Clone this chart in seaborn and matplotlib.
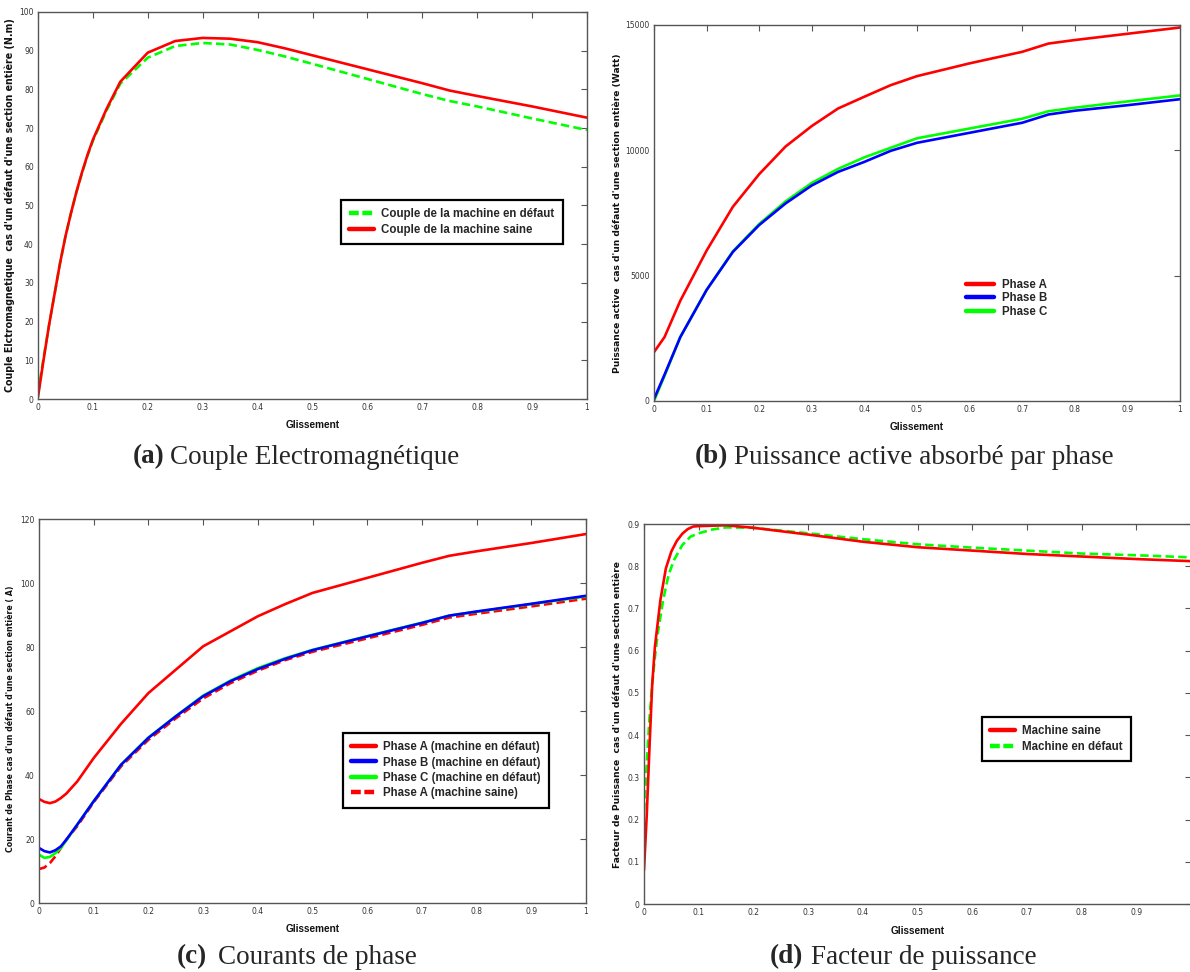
import numpy as np
import pandas as pd
import seaborn as sns
import matplotlib
matplotlib.use("Agg")
import matplotlib.pyplot as plt
from matplotlib import font_manager

# ---------------------------------------------------------------- data
# (a) electromagnetic torque vs slip
slip_a = [0, 0.01, 0.02, 0.03, 0.04, 0.05, 0.06, 0.07, 0.08, 0.09, 0.1, 0.125,
          0.15, 0.2, 0.25, 0.3, 0.35, 0.4, 0.45, 0.5, 0.6, 0.7, 0.75, 0.8, 0.9, 1.0]
couple_saine = [0.5, 10, 19, 27, 35, 42, 48, 53.5, 58.5, 63, 67, 75,
                82, 89.5, 92.5, 93.3, 93.1, 92.2, 90.6, 88.8, 85.2, 81.6, 79.7, 78.3, 75.6, 72.7]
couple_defaut = [1.5, 10.5, 19, 27, 35, 42, 48, 53.5, 58.3, 62.8, 66.7, 74.6,
                 81.5, 88.2, 91.2, 92.0, 91.6, 90.2, 88.5, 86.6, 82.7, 78.8, 77.0, 75.6, 72.5, 69.5]

# (b) active power absorbed per phase
slip_b = [0, 0.02, 0.05, 0.1, 0.15, 0.2, 0.25, 0.3, 0.35, 0.4, 0.45, 0.5,
          0.6, 0.7, 0.75, 0.8, 0.9, 1.0]
puissance_a = [1950, 2550, 4000, 6000, 7750, 9050, 10150, 10970, 11670, 12140, 12600, 12960,
               13470, 13930, 14260, 14400, 14650, 14900]
puissance_b = [80, 1050, 2550, 4430, 5950, 7020, 7880, 8600, 9140, 9540, 9980, 10300,
               10700, 11100, 11430, 11580, 11800, 12040]
puissance_c = [0, 1000, 2550, 4430, 5970, 7060, 7960, 8700, 9260, 9720, 10100, 10480,
               10870, 11260, 11560, 11700, 11950, 12190]

# (c) phase currents
slip_c = [0, 0.01, 0.02, 0.03, 0.04, 0.05, 0.07, 0.1, 0.15, 0.2, 0.25, 0.3, 0.35,
          0.4, 0.45, 0.5, 0.6, 0.7, 0.75, 0.8, 0.9, 1.0]
courant_a_defaut = [32.5, 31.6, 31.2, 31.7, 32.8, 34.2, 38.0, 45.3, 56.0, 65.6, 72.9, 80.2, 84.9,
                    89.6, 93.4, 96.9, 101.6, 106.3, 108.5, 109.9, 112.5, 115.3]
courant_b_defaut = [17.2, 16.2, 15.8, 16.5, 17.7, 19.8, 24.5, 31.8, 43.2, 51.6, 58.3, 64.6, 69.3,
                    73.1, 76.3, 79.0, 83.3, 87.5, 89.8, 91.1, 93.5, 96.0]
courant_c_defaut = [15.1, 14.1, 14.4, 15.6, 17.2, 19.6, 24.5, 31.8, 43.2, 51.7, 58.4, 64.8, 69.5,
                    73.4, 76.5, 79.1, 83.4, 87.6, 89.8, 91.0, 93.4, 95.8]
courant_a_saine = [10.6, 11.1, 12.5, 14.6, 17.2, 19.8, 24.0, 31.5, 42.7, 51.0, 57.7, 63.9, 68.7,
                   72.6, 75.9, 78.5, 82.7, 86.9, 89.2, 90.4, 92.7, 95.1]

# (d) power factor
slip_d_saine = [0, 0.005, 0.01, 0.015, 0.02, 0.03, 0.04, 0.05, 0.06, 0.07, 0.08, 0.09, 0.1,
                0.15, 0.2, 0.3, 0.4, 0.5, 0.6, 0.7, 0.8, 0.9, 1.0]
fp_saine = [0.08, 0.21, 0.37, 0.52, 0.61, 0.72, 0.795, 0.835, 0.86, 0.877, 0.888, 0.894, 0.895,
            0.897, 0.891, 0.875, 0.858, 0.845, 0.837, 0.829, 0.823, 0.817, 0.812]
slip_d_defaut = [0, 0.005, 0.01, 0.015, 0.02, 0.025, 0.035, 0.045, 0.055, 0.07, 0.085, 0.1, 0.125,
                 0.15, 0.2, 0.3, 0.4, 0.5, 0.6, 0.7, 0.8, 0.9, 1.0]
fp_defaut = [0.22, 0.33, 0.44, 0.52, 0.585, 0.64, 0.72, 0.78, 0.815, 0.85, 0.87, 0.878, 0.887,
             0.892, 0.891, 0.878, 0.864, 0.852, 0.844, 0.837, 0.830, 0.826, 0.821]

slip_ticks = [0, 0.1, 0.2, 0.3, 0.4, 0.5, 0.6, 0.7, 0.8, 0.9, 1.0]
slip_tick_labels = ["0", "0.1", "0.2", "0.3", "0.4", "0.5", "0.6", "0.7", "0.8", "0.9", "1"]

# ---------------------------------------------------------------- style
sns.set_style("white")
installed = {f.name for f in font_manager.fontManager.ttflist}
narrow = "Liberation Sans Narrow" if "Liberation Sans Narrow" in installed else "Liberation Sans"
plt.rcParams["font.family"] = ["DejaVu Sans"]

RED, GREEN, BLUE = "#ff0000", "#00ff00", "#0000ff"
LW = 1.9
DASH = (3.2, 1.6)
LEG_DASH = (0, (2.2, 0.8))

W, H = 1190, 972
fig = plt.figure(figsize=(W / 100, H / 100), dpi=100)


def px_axes(left, right, top, bottom):
    return fig.add_axes([left / W, 1 - bottom / H, (right - left) / W, (bottom - top) / H])


def style_axes(ax, ylim, yticks, ylabel, ylab_x, xlab_y, ylab_size=6.6, ylab_y=0.5,
               xticklabels=None):
    ax.set_xlim(0, 1)
    ax.set_ylim(*ylim)
    ax.set_xticks(slip_ticks)
    ax.set_xticklabels(xticklabels or slip_tick_labels)
    ax.set_yticks(yticks)
    ax.set_yticklabels([("%g" % v) for v in yticks])
    ax.tick_params(direction="in", top=True, right=True, length=4, width=0.8,
                   labelsize=5.5, labelcolor="#333333", color="#555555", pad=3)
    for sp in ax.spines.values():
        sp.set_color("#555555")
        sp.set_linewidth(1.0)
    ax.set_ylabel(ylabel, fontsize=ylab_size, fontweight="bold", color="#111111",
                  family="DejaVu Sans")
    ax.set_xlabel("Glissement", fontsize=7.2, fontweight="bold", color="#111111", family=narrow)
    ax.yaxis.set_label_coords(ylab_x, ylab_y)
    ax.xaxis.set_label_coords(0.5, xlab_y)
    ax.grid(False)


def add_legend(ax, order, x0, y0, frame=True, spacing=0.35, textpad=0.6, hlen=2.2):
    handles, labels = ax.get_legend_handles_labels()
    lookup = dict(zip(labels, handles))
    leg = ax.legend([lookup[k] for k in order], order, loc="upper left",
                    bbox_to_anchor=(x0 / W, 1 - y0 / H), bbox_transform=fig.transFigure,
                    frameon=frame, fancybox=False, framealpha=1, edgecolor="black",
                    borderaxespad=0, handlelength=hlen, handletextpad=textpad,
                    labelspacing=spacing, borderpad=0.7,
                    prop={"family": narrow, "weight": "bold", "size": 8.3})
    if frame:
        leg.get_frame().set_linewidth(1.6)
    for ln in leg.get_lines():
        dashed = ln.get_linestyle() not in ("-", "solid")
        ln.set_linewidth(3.2)
        if dashed:
            ln.set_linestyle(LEG_DASH)
    return leg


def caption(x_tag, x_text, y, tag, text):
    fig.text(x_tag / W, 1 - y / H, tag, ha="left", va="center",
             fontsize=19.5, fontweight="bold", family="Liberation Serif")
    fig.text(x_text / W, 1 - y / H, text, ha="left", va="center",
             fontsize=19.5, family="Liberation Serif")


# ---------------------------------------------------------------- (a)
ax_a = px_axes(38, 587, 12, 399)
sns.lineplot(x=slip_a, y=couple_defaut, ax=ax_a, color=GREEN, lw=LW,
             linestyle=(0, DASH), label="Couple de la machine en défaut", sort=False)
sns.lineplot(x=slip_a, y=couple_saine, ax=ax_a, color=RED, lw=LW,
             label="Couple de la machine saine", sort=False)
style_axes(ax_a, (0, 100), list(range(0, 101, 10)),
           "Couple Elctromagnetique  cas d'un défaut d'une section entière (N.m)", -0.042, -0.054,
           ylab_size=6.85)
add_legend(ax_a, ["Couple de la machine en défaut", "Couple de la machine saine"], 341, 200)
caption(133, 170, 457, "(a)", "Couple Electromagnétique")

# ---------------------------------------------------------------- (b)
ax_b = px_axes(654, 1180, 25, 401)
sns.lineplot(x=slip_b, y=puissance_c, ax=ax_b, color=GREEN, lw=LW, label="Phase C", sort=False)
sns.lineplot(x=slip_b, y=puissance_b, ax=ax_b, color=BLUE, lw=LW, label="Phase B", sort=False)
sns.lineplot(x=slip_b, y=puissance_a, ax=ax_b, color=RED, lw=LW, label="Phase A", sort=False)
style_axes(ax_b, (0, 15000), [0, 5000, 10000, 15000],
           "Puissance active  cas d'un défaut d'une section entière (Watt)", -0.061, -0.056)
add_legend(ax_b, ["Phase A", "Phase B", "Phase C"], 958, 271, frame=False, spacing=0.12,
           textpad=0.75, hlen=2.4)
caption(695, 734, 457, "(b)", "Puissance active absorbé par phase")

# ---------------------------------------------------------------- (c)
ax_c = px_axes(39, 586, 519, 903)
sns.lineplot(x=slip_c, y=courant_a_saine, ax=ax_c, color=RED, lw=LW, linestyle=(0, DASH),
             label="Phase A (machine saine)", sort=False)
sns.lineplot(x=slip_c, y=courant_c_defaut, ax=ax_c, color=GREEN, lw=LW,
             label="Phase C (machine en défaut)", sort=False)
sns.lineplot(x=slip_c, y=courant_b_defaut, ax=ax_c, color=BLUE, lw=LW,
             label="Phase B (machine en défaut)", sort=False)
sns.lineplot(x=slip_c, y=courant_a_defaut, ax=ax_c, color=RED, lw=LW,
             label="Phase A (machine en défaut)", sort=False)
style_axes(ax_c, (0, 120), list(range(0, 121, 20)),
           "Courant de Phase cas d'un défaut d'une section entière ( A)", -0.044, -0.055,
           ylab_size=5.7, ylab_y=0.479)
add_legend(ax_c, ["Phase A (machine en défaut)", "Phase B (machine en défaut)",
                  "Phase C (machine en défaut)", "Phase A (machine saine)"], 343, 733, spacing=0.3)
caption(177, 218, 957, "(c)", "Courants de phase")

# ---------------------------------------------------------------- (d)
ax_d = px_axes(644, 1191, 524, 904)
sns.lineplot(x=slip_d_defaut, y=fp_defaut, ax=ax_d, color=GREEN, lw=LW, linestyle=(0, DASH),
             label="Machine en défaut", sort=False)
sns.lineplot(x=slip_d_saine, y=fp_saine, ax=ax_d, color=RED, lw=LW,
             label="Machine saine", sort=False)
style_axes(ax_d, (0, 0.9), [round(0.1 * k, 1) for k in range(10)],
           "Facteur de Puissance  cas d'un défaut d'une section entière", -0.040, -0.058,
           xticklabels=slip_tick_labels[:-1] + [""])
add_legend(ax_d, ["Machine saine", "Machine en défaut"], 982, 717)
caption(770, 811, 957, "(d)", "Facteur de puissance")

fig.savefig("out.png", dpi=100, facecolor="white")
